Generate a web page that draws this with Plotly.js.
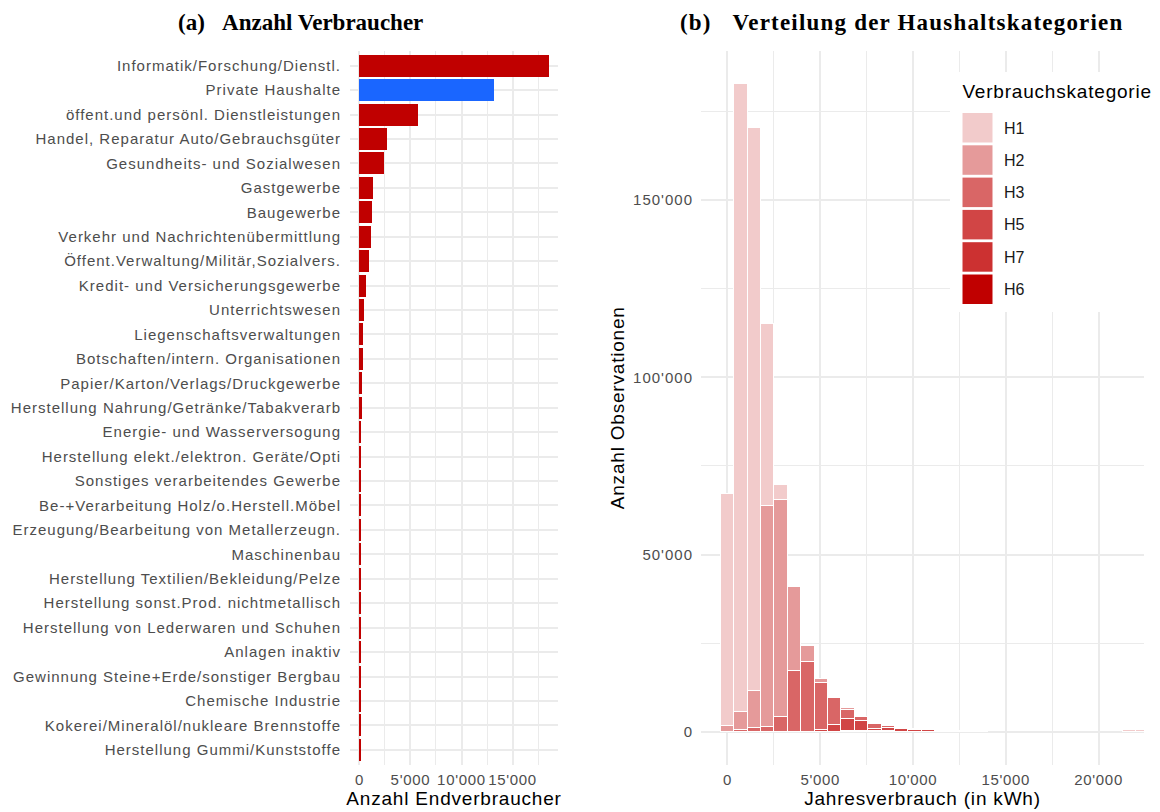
<!DOCTYPE html>
<html>
<head>
<meta charset="utf-8">
<script src="https://cdn.plot.ly/plotly-3.0.1.min.js"></script>
<style>
html,body{margin:0;padding:0;background:#fff;}
#chart{width:1160px;height:812px;}
#chart .ytick text{letter-spacing:1px;}
#chart .xtick text, #chart .x2tick text{letter-spacing:0.7px;}
#chart .y2tick text{letter-spacing:1px;}
#chart .xtitle, #chart .x2title, #chart .ytitle, #chart .y2title{letter-spacing:0.8px;}
#chart .annotation-text.legtitle{letter-spacing:0.8px;}
#chart .annotation-text.wide{letter-spacing:1.2px;}
</style>
</head>
<body>
<div id="chart"></div>
<script>
// ---------- Panel (a): Anzahl Verbraucher ----------
const sectors = [
  "Informatik/Forschung/Dienstl.",
  "Private Haushalte",
  "öffent.und persönl. Dienstleistungen",
  "Handel, Reparatur Auto/Gebrauchsgüter",
  "Gesundheits- und Sozialwesen",
  "Gastgewerbe",
  "Baugewerbe",
  "Verkehr und Nachrichtenübermittlung",
  "Öffent.Verwaltung/Militär,Sozialvers.",
  "Kredit- und Versicherungsgewerbe",
  "Unterrichtswesen",
  "Liegenschaftsverwaltungen",
  "Botschaften/intern. Organisationen",
  "Papier/Karton/Verlags/Druckgewerbe",
  "Herstellung Nahrung/Getränke/Tabakverarb",
  "Energie- und Wasserversogung",
  "Herstellung elekt./elektron. Geräte/Opti",
  "Sonstiges verarbeitendes Gewerbe",
  "Be-+Verarbeitung Holz/o.Herstell.Möbel",
  "Erzeugung/Bearbeitung von Metallerzeugn.",
  "Maschinenbau",
  "Herstellung Textilien/Bekleidung/Pelze",
  "Herstellung sonst.Prod. nichtmetallisch",
  "Herstellung von Lederwaren und Schuhen",
  "Anlagen inaktiv",
  "Gewinnung Steine+Erde/sonstiger Bergbau",
  "Chemische Industrie",
  "Kokerei/Mineralöl/nukleare Brennstoffe",
  "Herstellung Gummi/Kunststoffe"
];
const consumers = [18530, 13150, 5720, 2690, 2400, 1320, 1220, 1125, 930, 635, 440, 340, 330, 250, 240, 180, 150, 140, 130, 120, 110, 100, 95, 90, 85, 80, 75, 70, 65];
const highlighted = "Private Haushalte";
const xTicksA = [0, 5000, 10000, 15000];
const xMinorA = [2500, 7500, 12500, 17500];

// ---------- Panel (b): Verteilung der Haushaltskategorien ----------
const binCenters = [0, 722, 1445, 2167, 2890, 3612, 4334, 5057, 5779, 6502, 7224, 7946, 8669, 9391, 10114, 10836, 11558, 12281, 13003, 13726, 14448, 15170, 15893, 16615, 17338, 18060, 18782, 19505, 20227, 20950, 21672, 22394];
const catNames = ["H1", "H2", "H3", "H5", "H7", "H6"];
const H1 = [65500, 177100, 158800, 51200, 4200, 0, 0, 0, 0, 0, 0, 0, 0, 0, 0, 0, 0, 0, 0, 0, 0, 0, 0, 0, 0, 0, 0, 0, 0, 0, 600, 600];
const H2 = [1700, 5100, 10500, 62500, 61300, 23800, 4500, 1000, 0, 500, 200, 200, 200, 0, 0, 0, 100, 100, 50, 0, 0, 0, 0, 0, 0, 0, 0, 0, 0, 0, 0, 0];
const H3 = [0, 500, 1000, 1300, 4200, 17000, 19800, 13300, 7500, 2600, 900, 1400, 500, 200, 300, 200, 200, 100, 50, 50, 0, 0, 0, 0, 0, 0, 0, 0, 0, 0, 0, 0];
const H5 = [0, 0, 0, 0, 0, 0, 0, 500, 1900, 3400, 3000, 800, 900, 800, 500, 400, 0, 0, 0, 0, 0, 0, 0, 0, 0, 0, 0, 0, 0, 0, 0, 0];
const H7 = [0, 0, 0, 0, 0, 0, 0, 0, 0, 100, 100, 100, 100, 0, 0, 0, 0, 0, 0, 0, 0, 0, 0, 0, 0, 0, 0, 0, 0, 0, 0, 0];
const H6 = [0, 0, 0, 0, 0, 0, 0, 0, 50, 50, 50, 0, 0, 0, 0, 0, 0, 0, 0, 0, 0, 0, 0, 0, 0, 0, 0, 0, 0, 0, 0, 0];
const xTicksB = [0, 5000, 10000, 15000, 20000];
const xMinorB = [2500, 7500, 12500, 17500, 22500];
const yTicksB = [0, 50000, 100000, 150000];
const yMinorB = [25000, 75000, 125000, 175000];

// ---------- styles ----------
const RED = "#C00000", BLUE = "#1A66FF";
const catColors = {H1: "#F2CBCB", H2: "#E59A9A", H3: "#D96666", H5: "#D14545", H7: "#CC3131", H6: "#C00000"};
const seriesByCat = {H1: H1, H2: H2, H3: H3, H5: H5, H7: H7, H6: H6};
const GRID = "#EBEBEB", TICK = "#4D4D4D";
const FONT = "Liberation Sans, Arial, sans-serif";
const SERIF = "Liberation Serif, Times New Roman, serif";
const W = 1160, H = 812;
const px = x => x / W;
const py = y => 1 - y / H;

const traces = [];
traces.push({
  type: "bar", orientation: "h",
  x: consumers, y: sectors,
  width: 0.9,
  marker: {color: sectors.map(s => s === highlighted ? BLUE : RED), line: {width: 0}},
  xaxis: "x", yaxis: "y",
  hoverinfo: "x+y"
});
// stack bottom -> top : H6, H7, H5, H3, H2, H1
catNames.slice().reverse().forEach(c => {
  traces.push({
    type: "bar",
    name: c,
    x: binCenters,
    y: seriesByCat[c].map(v => v === 0 ? null : v),
    width: 722,
    marker: {color: catColors[c], line: {color: "#FFFFFF", width: 1.2}},
    xaxis: "x2", yaxis: "y2"
  });
});

const yDom = [py(764.5), py(51)];
const axisCommon = {
  showgrid: true, gridcolor: GRID, gridwidth: 1.5,
  zeroline: false, showline: false, ticks: "",
  tickfont: {family: FONT, size: 15, color: TICK},
  tickangle: 0
};
const minorCommon = {showgrid: true, gridcolor: GRID, gridwidth: 1, ticks: ""};
const titleFont = {family: FONT, size: 19, color: "#000"};

const shapes = [];
const annotations = [];

// panel titles
annotations.push({
  xref: "paper", yref: "paper", x: px(300), y: py(22), xanchor: "center", yanchor: "middle",
  text: "<b>(a)\u00a0\u00a0\u00a0Anzahl Verbraucher</b>", showarrow: false,
  font: {family: SERIF, size: 23, color: "#000"}
});
annotations.push({
  xref: "paper", yref: "paper", x: px(901.5), y: py(22), xanchor: "center", yanchor: "middle",
  text: "<b>(b)\u00a0\u00a0\u00a0Verteilung der Haushaltskategorien</b>", showarrow: false,
  font: {family: SERIF, size: 23, color: "#000"}
});

// legend (ggplot style, drawn in paper space)
shapes.push({type: "rect", xref: "paper", yref: "paper", x0: px(950), x1: px(1160), y0: py(312), y1: py(72),
  fillcolor: "#FFFFFF", line: {width: 0}, layer: "above"});
annotations.push({
  xref: "paper", yref: "paper", x: px(967.5), y: py(92), xanchor: "left", yanchor: "middle",
  text: "Verbrauchskategorie", showarrow: false, font: {family: FONT, size: 19, color: "#000"}
});
catNames.forEach((c, i) => {
  const top = 113 + i * 32.3;
  shapes.push({type: "rect", xref: "paper", yref: "paper", x0: px(962.5), x1: px(992.5), y0: py(top + 29.5), y1: py(top),
    fillcolor: catColors[c], line: {width: 0}, layer: "above"});
  annotations.push({
    xref: "paper", yref: "paper", x: px(1002), y: py(top + 15), xanchor: "left", yanchor: "middle",
    text: c, showarrow: false, font: {family: FONT, size: 16, color: "#1A1A1A"}
  });
});

const layout = {
  width: W, height: H,
  margin: {l: 0, r: 0, t: 0, b: 0},
  paper_bgcolor: "#FFFFFF", plot_bgcolor: "#FFFFFF",
  separators: ".'",
  showlegend: false,
  barmode: "stack", bargap: 0,
  font: {family: FONT, size: 15, color: TICK},
  xaxis: Object.assign({}, axisCommon, {
    domain: [px(350), px(558)], anchor: "y",
    range: [-926, 19456],
    tickmode: "array", tickvals: xTicksA, tickformat: ",d",
    minor: Object.assign({tickmode: "array", tickvals: xMinorA}, minorCommon),
    ticklabelstandoff: 4,
    title: {text: "Anzahl Endverbraucher", font: titleFont, standoff: 5}
  }),
  yaxis: Object.assign({}, axisCommon, {
    domain: yDom, anchor: "x",
    type: "category", categoryorder: "array", categoryarray: sectors,
    range: [sectors.length - 0.4, -0.6],
    ticklabelstandoff: 8
  }),
  xaxis2: Object.assign({}, axisCommon, {
    domain: [px(701), px(1144)], anchor: "y2",
    range: [-1428, 22450],
    tickmode: "array", tickvals: xTicksB, tickformat: ",d",
    minor: Object.assign({tickmode: "array", tickvals: xMinorB}, minorCommon),
    ticklabelstandoff: 4,
    title: {text: "Jahresverbrauch (in kWh)", font: titleFont, standoff: 5}
  }),
  yaxis2: Object.assign({}, axisCommon, {
    domain: yDom, anchor: "x2",
    range: [-9250, 192070],
    tickmode: "array", tickvals: yTicksB, tickformat: ",d",
    minor: Object.assign({tickmode: "array", tickvals: yMinorB}, minorCommon),
    ticklabelstandoff: 7,
    title: {text: "Anzahl Observationen", font: titleFont, standoff: 10}
  }),
  shapes: shapes,
  annotations: annotations
};

Plotly.newPlot("chart", traces, layout, {displayModeBar: false}).then(() => {
  document.querySelectorAll("#chart .annotation-text").forEach(t => {
    if (t.textContent === "Verbrauchskategorie") t.classList.add("legtitle");
    if (t.textContent.indexOf("Verteilung") >= 0) t.classList.add("wide");
  });
});
</script>
</body>
</html>
